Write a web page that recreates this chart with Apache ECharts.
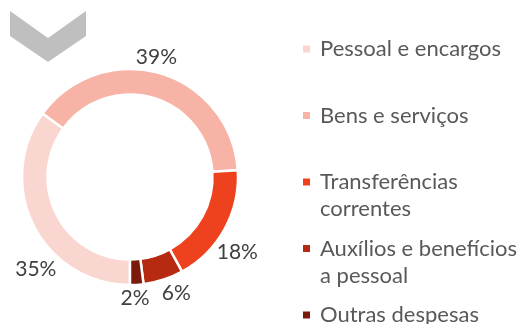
<!DOCTYPE html>
<html>
<head>
<meta charset="utf-8">
<script src="https://cdn.jsdelivr.net/npm/echarts@6/dist/echarts.min.js"></script>
<style>
  html, body { margin: 0; padding: 0; background: #fff; }
  #chart { width: 520px; height: 324px; }
</style>
</head>
<body>
<div id="chart"></div>
<script>
// Expense categories and their share of the total (%)
const categories = [
  'Pessoal e encargos',
  'Bens e serviços',
  'Transferências correntes',
  'Auxílios e benefícios a pessoal',
  'Outras despesas'
];
const shares = [35, 39, 18, 6, 2];
// Legend text, broken over lines as printed
const legendLabels = [
  'Pessoal e encargos',
  'Bens e serviços',
  'Transferências\ncorrentes',
  'Auxílios e benefícios\na pessoal',
  'Outras despesas'
];
const sliceColors = ['#FAD6D0', '#F6B3A6', '#EE411E', '#B52A10', '#7A1B0C'];

// Small hand offsets for the percentage labels [dx, dy]
const labelNudge = [[19, 35], [-9, 2], [-4, 14], [7, -5], [-3, -6]];

const FONT = 'Lato';
const LINE_H = 27;

const chart = echarts.init(document.getElementById('chart'), null, { renderer: 'canvas' });

// One legend block per category, stacked down the right side.
// Legend text is centred on its swatch, so multi-line names get blank
// lines in front to keep the swatch level with the first line.
const legends = categories.map((name, i) => {
  const extra = legendLabels[i].split('\n').length - 1;
  const text = '\n'.repeat(extra) + legendLabels[i];
  return {
    orient: 'vertical',
    left: 301,
    top: 35.5 + i * 66.5 - extra * LINE_H,
    padding: 0,
    itemWidth: 9,
    itemHeight: 9,
    icon: 'rect',
    selectedMode: false,
    data: [name],
    formatter: () => text,
    textStyle: {
      fontFamily: FONT,
      fontSize: 22,
      color: '#595959',
      lineHeight: LINE_H,
      padding: [0, 0, 0, 4]
    }
  };
});

chart.setOption({
  animation: false,
  color: sliceColors,
  legend: legends,
  graphic: [{
    type: 'polygon',
    shape: { points: [[10, 11], [48, 38], [86, 11], [86, 36], [48, 62], [10, 36]] },
    style: { fill: '#BFBFBF' }
  }],
  series: [{
    type: 'pie',
    center: [130, 177],
    radius: [82.5, 108],
    startAngle: 270,
    clockwise: true,
    avoidLabelOverlap: false,
    itemStyle: { borderColor: '#ffffff', borderWidth: 2.5 },
    label: {
      show: true,
      position: 'outside',
      alignTo: 'none',
      distanceToLabelLine: 0,
      formatter: p => p.value + '%',
      fontFamily: FONT,
      fontSize: 21,
      color: '#404040'
    },
    labelLine: { show: false, length: 19, length2: 0 },
    labelLayout: p => ({
      align: 'center',
      verticalAlign: 'middle',
      dx: labelNudge[p.dataIndex][0],
      dy: labelNudge[p.dataIndex][1]
    }),
    emphasis: { disabled: true },
    data: categories.map((name, i) => ({ name, value: shares[i] }))
  }]
});
</script>
</body>
</html>
